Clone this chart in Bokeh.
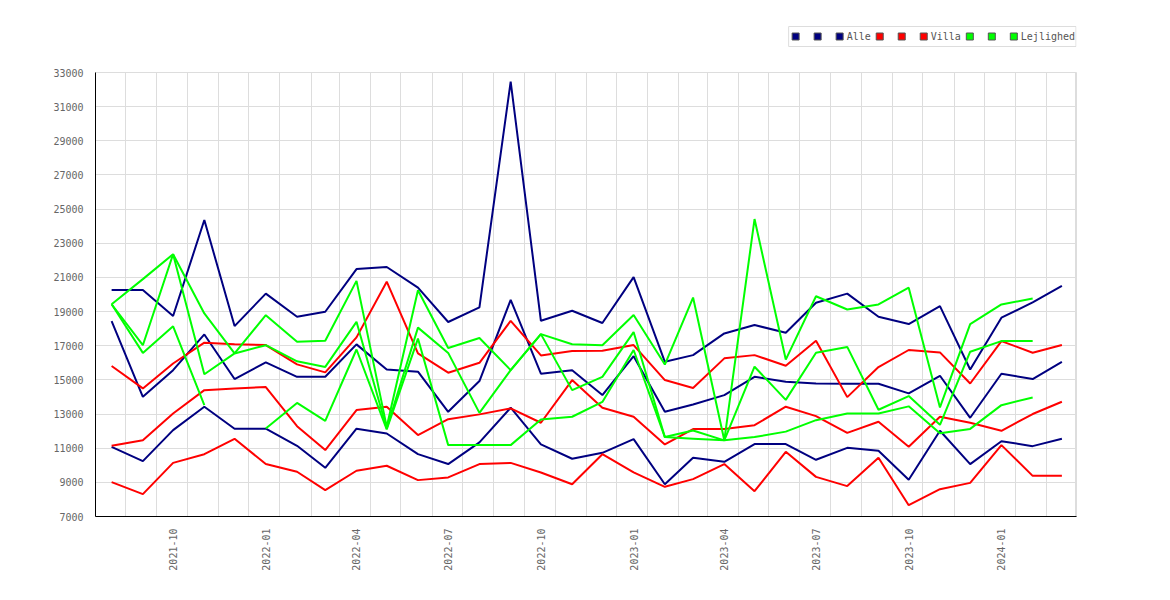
import math
from datetime import date
import numpy as np
from bokeh.plotting import figure
from bokeh.layouts import column
from bokeh.models import FixedTicker, Range1d
from bokeh.core.properties import value
from bokeh.embed import file_html
from bokeh.resources import INLINE

NaN = float("nan")

months = ["2021-08", "2021-09", "2021-10", "2021-11", "2021-12",
          "2022-01", "2022-02", "2022-03", "2022-04", "2022-05", "2022-06",
          "2022-07", "2022-08", "2022-09", "2022-10", "2022-11", "2022-12",
          "2023-01", "2023-02", "2023-03", "2023-04", "2023-05", "2023-06",
          "2023-07", "2023-08", "2023-09", "2023-10", "2023-11", "2023-12",
          "2024-01", "2024-02", "2024-03"]

alle_1 = [20260, 20260, 18740, 24360, 18150, 20050, 18700, 18990, 21490, 21610, 20400,
          18390, 19250, 32470, 18460, 19050, 18330, 21020, 16060, 16450, 17720, 18210,
          17760, 19520, 20050, 18700, 18270, 19320, 15610, 18640, 19540, 20510]
alle_2 = [18440, 14010, 15570, 17660, 15050, 16020, 15180, 15180, 17080, 15610, 15480,
          13130, 14930, 19680, 15360, 15570, 14110, 16390, 13130, 13560, 14110, 15180,
          14890, 14790, 14770, 14770, 14210, 15240, 12780, 15360, 15050, 16060]
alle_3 = [11080, 10240, 12060, 13430, 12140, 12140, 11140, 9850, 12140, 11860, 10650,
          10070, 11340, 13370, 11220, 10380, 10730, 11530, 8890, 10440, 10200, 11240,
          11240, 10320, 11020, 10850, 9150, 12020, 10070, 11410, 11120, 11550]

villa_1 = [15810, 14500, 15960, 17180, 17080, 17040, 15910, 15440, 17490, 20750, 16550,
           15420, 16000, 18460, 16430, 16690, 16710, 17040, 14990, 14520, 16260, 16450,
           15830, 17290, 13990, 15750, 16750, 16610, 14790, 17270, 16590, 17040]
villa_2 = [11140, 11470, 13030, 14400, 14500, 14580, 12290, 10890, 13230, 13430, 11770,
           12700, 12980, 13330, 12490, 14990, 13370, 12840, 11220, 12120, 12120, 12350,
           13430, 12880, 11900, 12550, 11080, 12840, 12490, 12020, 13000, 13720]
villa_3 = [9010, 8310, 10140, 10650, 11550, 10070, 9620, 8540, 9680, 9970, 9130,
           9290, 10070, 10140, 9580, 8890, 10650, 9580, 8740, 9190, 10070, 8480,
           10790, 9320, 8780, 10440, 7660, 8600, 8970, 11180, 9380, 9380]

lejl_1 = [19430, 20900, 22360, 18890, 16550, 18790, 17230, 17290, 20800, 12250, 20250,
          16870, 17450, 15570, 17680, 17090, 17030, 18800, 15900, 19820, 11460, 24420,
          16190, 19900, 19120, 19420, 20400, 13390, 18270, 19420, 19760, NaN]
lejl_2 = [19430, 17030, 22360, 15330, 16550, 17030, 16090, 15760, 18400, 12150, 18060,
          16580, 13070, 15570, 17680, 14400, 15180, 17800, 11650, 12040, 11460, 15770,
          13830, 16590, 16930, 13250, 14050, 12370, 16650, 17270, 17270, NaN]
lejl_3 = [19430, 16580, 18140, 13520, NaN, 12150, 13650, 12600, 16780, 12100, 17420,
          11180, 11180, 11180, 12680, 12840, 13710, 16750, 11650, 11560, 11460, 11650,
          11970, 12640, 13030, 13030, 13450, 11880, 12130, 13520, 13970, NaN]

y_ticks = list(range(7000, 33001, 2000))
group_names = ["Alle", "Villa", "Lejlighed"]
group_colors = ["#000080", "#ff0000", "#00ff00"]
group_series = [[alle_1, alle_2, alle_3], [villa_1, villa_2, villa_3],
                [lejl_1, lejl_2, lejl_3]]

base = date(2021, 8, 1)
def ym(m):
    return int(m[:4]), int(m[5:])
x = np.array([(date(*ym(m), 1) - base).days for m in months], dtype=float)
grid_x = [(date(*ym(m), 15) - base).days for m in months]
label_ticks = [int(xx) for xx, m in zip(x, months) if ym(m)[1] in (1, 4, 7, 10)]
label_text = {int(xx): m for xx, m in zip(x, months) if ym(m)[1] in (1, 4, 7, 10)}

FONT = "DejaVu Sans Mono"
W = 1150
LEG_H = 48
FRAME_L, FRAME_R = 95, 1076   # frame edges in page pixels (frames are aligned in the column)

# ---- legend strip (page-pixel coordinates, y downwards) ----
lf = figure(width=W, height=LEG_H, output_backend="svg", toolbar_location=None,
            x_range=Range1d(FRAME_L, FRAME_R), y_range=Range1d(LEG_H, 0), min_border=0)
lf.axis.visible = False
lf.grid.visible = False
lf.outline_line_color = None
lf.background_fill_color = "white"
lf.border_fill_color = "white"

CHAR_W = 6.02
# lay out the legend items from their label lengths, right aligned to the frame
offs, lab_offs = [], []
cx = 0.0
for name in group_names:
    for k in range(3):
        offs.append(cx)
        if k < 2:
            cx += 22
    lab_offs.append(cx + 7)
    cx = cx + 7 + CHAR_W * len(name) + 9
end_off = lab_offs[-1] + CHAR_W * len(group_names[-1])
c0 = FRAME_R - 1.5 - end_off
sq_x = [c0 + o for o in offs]
lab_x = [c0 + o for o in lab_offs]
sq_c = [c for c in group_colors for _ in range(3)]
LY = 36
lf.quad(left=[sq_x[0] - 7], right=[FRAME_R - 0.5], top=[LY - 10], bottom=[LY + 10],
        fill_color="white", line_color="#dddddd", line_width=1)
lf.rect(x=sq_x, y=[LY] * len(sq_x), width=7, height=7, fill_color=sq_c,
        line_color="#555555", line_width=1)
lf.text(x=lab_x, y=[LY] * len(lab_x), text=group_names, text_baseline="middle",
        text_align="left", text_font=value(FONT), text_font_size="10px",
        text_color="#555555")

# ---- main chart ----
p = figure(width=W, height=580 - LEG_H, output_backend="svg", toolbar_location=None,
           x_range=Range1d(-16, x[-1] + 14.5), y_range=Range1d(7000, 33000),
           min_border_left=FRAME_L, min_border_right=W - FRAME_R,
           min_border_top=72 - LEG_H, min_border_bottom=64)
p.background_fill_color = "white"
p.border_fill_color = "white"
p.outline_line_color = "#dddddd"

p.xaxis.ticker = FixedTicker(ticks=label_ticks)
p.xaxis.major_label_overrides = label_text
p.xaxis.major_label_orientation = math.pi / 2
p.yaxis.ticker = FixedTicker(ticks=y_ticks)
p.xgrid.ticker = FixedTicker(ticks=grid_x)
for ax in (p.xaxis, p.yaxis):
    ax.axis_line_color = "black"
    ax.axis_line_width = 1
    ax.major_tick_line_color = None
    ax.minor_tick_line_color = None
    ax.major_label_text_font = FONT
    ax.major_label_text_font_size = "10px"
    ax.major_label_text_color = "#666666"
    ax.major_label_standoff = 6
p.xgrid.grid_line_color = "#dddddd"
p.ygrid.grid_line_color = "#dddddd"

for color, series in zip(group_colors, group_series):
    for s in series:
        p.line(x, np.array(s, dtype=float), line_color=color, line_width=2)

open("out.html", "w").write(file_html(column(lf, p, spacing=0), INLINE))
